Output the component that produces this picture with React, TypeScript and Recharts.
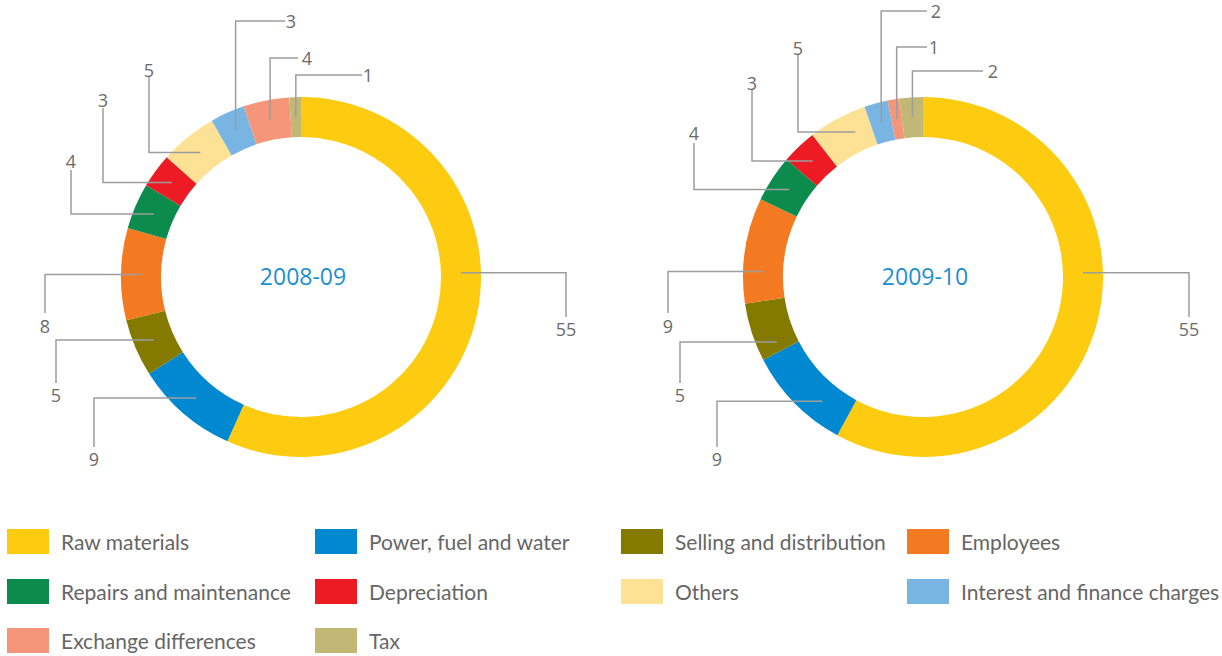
import React from 'react';
import { PieChart, Pie, Cell } from 'recharts';

const categories = [
  'Raw materials',
  'Power, fuel and water',
  'Selling and distribution',
  'Employees',
  'Repairs and maintenance',
  'Depreciation',
  'Others',
  'Interest and finance charges',
  'Exchange differences',
  'Tax',
];

const share2008 = [55, 9, 5, 8, 4, 3, 5, 3, 4, 1];
const share2009 = [55, 9, 5, 9, 4, 3, 5, 2, 1, 2];

const colors = [
  '#FDCB10', '#0089D0', '#847A00', '#F47A22', '#0B8C4D',
  '#ED1C24', '#FDE296', '#79B5E3', '#F5967A', '#C1B875',
];

// leader line layout, relative to the donut centre
// h: horizontal first then vertical, label under/over the end
// v: vertical first then horizontal, label right of the end
// angle: optional anchor angle instead of the slice's mid angle
type LeaderLayout = { mode: 'h' | 'v'; ex: number; ey: number; tx?: number; ty?: number; angle?: number };

const leaders2008: LeaderLayout[] = [
  { mode: 'h', angle: 1.5, ex: 265, ey: 40, ty: 52 },
  { mode: 'h', ex: -207, ey: 170, ty: 182 },
  { mode: 'h', ex: -245, ey: 106, ty: 118 },
  { mode: 'h', ex: -256, ey: 36, ty: 49 },
  { mode: 'h', ex: -230, ey: -107, ty: -116 },
  { mode: 'h', ex: -198, ey: -169, ty: -177 },
  { mode: 'h', ex: -152, ey: -200, ty: -207 },
  { mode: 'v', ex: -16, ey: -256, tx: -10 },
  { mode: 'v', ex: -3, ey: -219, tx: 6 },
  { mode: 'v', ex: 61, ey: -202, tx: 67 },
];

const leaders2009: LeaderLayout[] = [
  { mode: 'h', angle: 1.5, ex: 266, ey: 40, ty: 52 },
  { mode: 'h', angle: -129, ex: -206, ey: 170, ty: 182 },
  { mode: 'h', angle: -156, ex: -243, ey: 106, ty: 118 },
  { mode: 'h', angle: -182, ex: -255, ey: 36, ty: 49 },
  { mode: 'h', ex: -229, ey: -134, ty: -144 },
  { mode: 'h', ex: -171, ey: -187, ty: -194 },
  { mode: 'h', angle: -245, ex: -125, ey: -222, ty: -229 },
  { mode: 'v', ex: 4, ey: -266, tx: 13 },
  { mode: 'v', ex: 4, ey: -230, tx: 11 },
  { mode: 'v', ex: 60, ey: -206, tx: 70 },
];

const RAD = Math.PI / 180;
const FONT = "'Open Sans', sans-serif";
const LEGEND_FONT = 'Lato, sans-serif';

const makeLabel = (layout: LeaderLayout[], title: string) => (props: any) => {
  const { cx, cy, midAngle, innerRadius, outerRadius, index, value } = props;
  const l = layout[index];
  const ang = (l.angle ?? midAngle) * RAD;
  const r = (innerRadius + outerRadius) / 2;
  const x0 = cx + r * Math.cos(ang);
  const y0 = cy - r * Math.sin(ang);
  let pts: string;
  let tx: number;
  let ty: number;
  if (l.mode === 'h') {
    pts = `${x0},${y0} ${cx + l.ex},${y0} ${cx + l.ex},${cy + l.ey}`;
    tx = cx + l.ex;
    ty = cy + (l.ty ?? l.ey);
  } else {
    pts = `${x0},${y0} ${x0},${cy + l.ey} ${cx + l.ex},${cy + l.ey}`;
    tx = cx + (l.tx ?? l.ex);
    ty = cy + l.ey;
  }
  return (
    <g key={`lbl-${index}`}>
      <polyline points={pts} fill="none" stroke="#9d9d9d" strokeWidth={1.5} />
      <text x={tx} y={ty} textAnchor="middle" dominantBaseline="central" fill="#6b6b6b" fontSize={18} fontFamily={FONT}>
        {value}
      </text>
      {index === 0 && (
        <text x={cx + 2} y={cy - 1} textAnchor="middle" dominantBaseline="central" fill="#1B8FD2" fontSize={23} fontFamily={FONT}>
          {title}
        </text>
      )}
    </g>
  );
};

const rows2008 = categories.map((name, i) => ({ name, value: share2008[i] }));
const rows2009 = categories.map((name, i) => ({ name, value: share2009[i] }));

const legendCols = [7, 315, 621, 907];
const legendRows = [529, 579, 628];

export default function App() {
  return (
    <div style={{ position: 'absolute', left: 0, top: 0, width: 1222, height: 656, background: '#fff', fontFamily: FONT }}>
      <PieChart width={1222} height={500} margin={{ top: 0, right: 0, bottom: 0, left: 0 }}>
        <Pie
          data={rows2008}
          dataKey="value"
          nameKey="name"
          cx={301}
          cy={277}
          innerRadius={140}
          outerRadius={180}
          startAngle={90}
          endAngle={-270}
          stroke="none"
          labelLine={false}
          label={makeLabel(leaders2008, '2008-09')}
          isAnimationActive={false}
        >
          {rows2008.map((r, i) => (
            <Cell key={r.name} fill={colors[i]} />
          ))}
        </Pie>
        <Pie
          data={rows2009}
          dataKey="value"
          nameKey="name"
          cx={923}
          cy={277}
          innerRadius={140}
          outerRadius={180}
          startAngle={90}
          endAngle={-270}
          stroke="none"
          labelLine={false}
          label={makeLabel(leaders2009, '2009-10')}
          isAnimationActive={false}
        >
          {rows2009.map((r, i) => (
            <Cell key={r.name} fill={colors[i]} />
          ))}
        </Pie>
      </PieChart>
      {categories.map((name, i) => {
        const left = legendCols[i % 4];
        const top = legendRows[Math.floor(i / 4)];
        return (
          <div key={name} style={{ position: 'absolute', left, top, height: 25, display: 'flex', alignItems: 'center' }}>
            <div style={{ width: 42, height: 25, background: colors[i] }} />
            <span style={{ marginLeft: 12, fontSize: 21, fontFamily: LEGEND_FONT, color: '#666', whiteSpace: 'nowrap', lineHeight: '25px' }}>{name}</span>
          </div>
        );
      })}
    </div>
  );
}
